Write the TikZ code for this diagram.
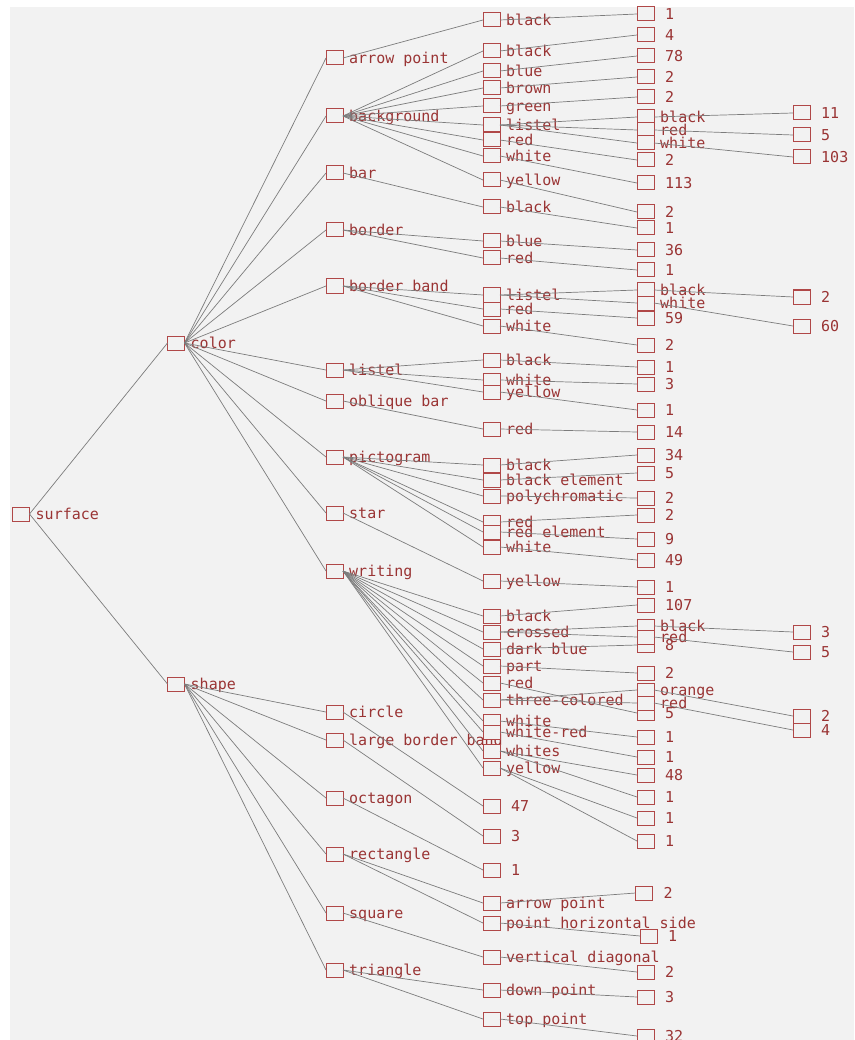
\documentclass[tikz,border=0pt]{standalone}
\usepackage{fontspec}
\newfontfamily\lblfont{DejaVu Sans Mono}
\definecolor{bxc}{HTML}{B04848}
\definecolor{txc}{HTML}{9A3434}
\definecolor{lnc}{HTML}{7C7C7C}
\definecolor{bgc}{HTML}{F2F2F2}
\begin{document}
\begin{tikzpicture}[x=1pt,y=-1pt,
  box/.style={draw=bxc, line width=1pt, fill=bgc, minimum width=17pt, minimum height=14pt, inner sep=0pt, outer sep=0pt},
  lbl/.style={font=\lblfont\fontsize{15}{15}\selectfont, text=txc, inner sep=0pt, text height=14pt, text depth=3pt},
  nm/.style={box, label={[lbl, xshift=6pt]right:#1}},
  nv/.style={box, label={[lbl, xshift=11pt]right:#1}},
  ln/.style={draw=lnc, line width=0.7pt}]
\useasboundingbox (0,0) rectangle (854,1040);
\fill[white] (0,0) rectangle (854,1040);
\fill[bgc] (10,7) rectangle (854,1040);
% level 0 and 1
\node[nm=surface] (s0) at (21,514) {};
\node[nm=color] (c) at (176,343) {};
\node[nm=shape] (sh) at (176,684) {};
% level 2
\node[nm=arrow point] (a1) at (334.5,58) {};
\node[nm=background] (a2) at (334.5,116) {};
\node[nm=bar] (a3) at (334.5,173) {};
\node[nm=border] (a4) at (334.5,230) {};
\node[nm=border band] (a5) at (334.5,286) {};
\node[nm=listel] (a6) at (334.5,370) {};
\node[nm=oblique bar] (a7) at (334.5,401) {};
\node[nm=pictogram] (a8) at (334.5,457) {};
\node[nm=star] (a9) at (334.5,513) {};
\node[nm=writing] (a10) at (334.5,571) {};
\node[nm=circle] (a11) at (334.5,712) {};
\node[nm=large border band] (a12) at (334.5,740) {};
\node[nm=octagon] (a13) at (334.5,798) {};
\node[nm=rectangle] (a14) at (334.5,854) {};
\node[nm=square] (a15) at (334.5,913) {};
\node[nm=triangle] (a16) at (334.5,970) {};
% level 3
\node[nm=black] (b1) at (491.5,20) {};
\node[nm=black] (b2) at (491.5,51) {};
\node[nm=blue] (b3) at (491.5,71) {};
\node[nm=brown] (b4) at (491.5,88) {};
\node[nm=green] (b5) at (491.5,106) {};
\node[nm=listel] (b6) at (491.5,125) {};
\node[nm=red] (b7) at (491.5,140) {};
\node[nm=white] (b8) at (491.5,156) {};
\node[nm=yellow] (b9) at (491.5,180) {};
\node[nm=black] (b10) at (491.5,207) {};
\node[nm=blue] (b11) at (491.5,241) {};
\node[nm=red] (b12) at (491.5,258) {};
\node[nm=listel] (b13) at (491.5,295) {};
\node[nm=red] (b14) at (491.5,309) {};
\node[nm=white] (b15) at (491.5,326) {};
\node[nm=black] (b16) at (491.5,360) {};
\node[nm=white] (b17) at (491.5,380) {};
\node[nm=yellow] (b18) at (491.5,392) {};
\node[nm=red] (b19) at (491.5,429) {};
\node[nm=black] (b20) at (491.5,465) {};
\node[nm=black element] (b21) at (491.5,480) {};
\node[nm=polychromatic] (b22) at (491.5,496) {};
\node[nm=red] (b23) at (491.5,522) {};
\node[nm=red element] (b24) at (491.5,532) {};
\node[nm=white] (b25) at (491.5,547) {};
\node[nm=yellow] (b26) at (491.5,581) {};
\node[nm=black] (b27) at (491.5,616) {};
\node[nm=crossed] (b28) at (491.5,632) {};
\node[nm=dark blue] (b29) at (491.5,649) {};
\node[nm=part] (b30) at (491.5,666) {};
\node[nm=red] (b31) at (491.5,683) {};
\node[nm=three-colored] (b32) at (491.5,700) {};
\node[nm=white] (b33) at (491.5,721) {};
\node[nm=white-red] (b34) at (491.5,732) {};
\node[nm=whites] (b35) at (491.5,751) {};
\node[nm=yellow] (b36) at (491.5,768) {};
\node[nv=47] (b37) at (491.5,806) {};
\node[nv=3] (b38) at (491.5,836) {};
\node[nv=1] (b39) at (491.5,870) {};
\node[nm=arrow point] (b40) at (491.5,903) {};
\node[nm=point horizontal side] (b41) at (491.5,923) {};
\node[nm=vertical diagonal] (b42) at (491.5,957) {};
\node[nm=down point] (b43) at (491.5,990) {};
\node[nm=top point] (b44) at (491.5,1019) {};
% level 4
\node[nv=1] (d1) at (645.5,14) {};
\node[nv=4] (d2) at (645.5,35) {};
\node[nv=78] (d3) at (645.5,56) {};
\node[nv=2] (d4) at (645.5,77) {};
\node[nv=2] (d5) at (645.5,97) {};
\node[nm=black] (d6) at (645.5,117) {};
\node[nm=red] (d7) at (645.5,130) {};
\node[nm=white] (d8) at (645.5,143) {};
\node[nv=2] (d9) at (645.5,160) {};
\node[nv=113] (d10) at (645.5,183) {};
\node[nv=2] (d11) at (645.5,212) {};
\node[nv=1] (d12) at (645.5,228) {};
\node[nv=36] (d13) at (645.5,250) {};
\node[nv=1] (d14) at (645.5,270) {};
\node[nm=black] (d15) at (645.5,290) {};
\node[nm=white] (d16) at (645.5,303) {};
\node[nv=59] (d17) at (645.5,318) {};
\node[nv=2] (d18) at (645.5,345) {};
\node[nv=1] (d19) at (645.5,367) {};
\node[nv=3] (d20) at (645.5,384) {};
\node[nv=1] (d21) at (645.5,410) {};
\node[nv=14] (d22) at (645.5,432) {};
\node[nv=34] (d23) at (645.5,455) {};
\node[nv=5] (d24) at (645.5,473) {};
\node[nv=2] (d25) at (645.5,498) {};
\node[nv=2] (d26) at (645.5,515) {};
\node[nv=9] (d27) at (645.5,539) {};
\node[nv=49] (d28) at (645.5,560) {};
\node[nv=1] (d29) at (645.5,587) {};
\node[nv=107] (d30) at (645.5,605) {};
\node[nv=8] (d33) at (645.5,645) {};
\node[nm=black] (d31) at (645.5,626) {};
\node[nm=red] (d32) at (645.5,637) {};
\node[nv=2] (d34) at (645.5,673) {};
\node[nv=5] (d37) at (645.5,713) {};
\node[nm=orange] (d35) at (645.5,690) {};
\node[nm=red] (d36) at (645.5,703) {};
\node[nv=1] (d38) at (645.5,737) {};
\node[nv=1] (d39) at (645.5,757) {};
\node[nv=48] (d40) at (645.5,775) {};
\node[nv=1] (d41) at (645.5,797) {};
\node[nv=1] (d42) at (645.5,818) {};
\node[nv=1] (d43) at (645.5,841) {};
\node[nv=2] (d44) at (644,893) {};
\node[nv=1] (d45) at (648.5,936) {};
\node[nv=2] (d46) at (645.5,972) {};
\node[nv=3] (d47) at (645.5,997) {};
\node[nv=32] (d48) at (645.5,1036) {};
% level 5
\node[nv=11] (e1) at (801.5,113) {};
\node[nv=5] (e2) at (801.5,135) {};
\node[nv=103] (e3) at (801.5,157) {};
\node[nv=2] (e4) at (801.5,297) {};
\node[nv=60] (e5) at (801.5,326) {};
\node[nv=3] (e6) at (801.5,632) {};
\node[nv=5] (e7) at (801.5,652) {};
\node[nv=2] (e8) at (801.5,716) {};
\node[nv=4] (e9) at (801.5,730) {};
% connectors
\foreach \p/\q in {s0/c, s0/sh,
  c/a1, c/a2, c/a3, c/a4, c/a5, c/a6, c/a7, c/a8, c/a9, c/a10,
  sh/a11, sh/a12, sh/a13, sh/a14, sh/a15, sh/a16,
  a1/b1, a2/b2, a2/b3, a2/b4, a2/b5, a2/b6, a2/b7, a2/b8, a2/b9,
  a3/b10, a4/b11, a4/b12, a5/b13, a5/b14, a5/b15,
  a6/b16, a6/b17, a6/b18, a7/b19,
  a8/b20, a8/b21, a8/b22, a8/b23, a8/b24, a8/b25, a9/b26,
  a10/b27, a10/b28, a10/b29, a10/b30, a10/b31, a10/b32, a10/b33, a10/b34, a10/b35, a10/b36,
  a11/b37, a12/b38, a13/b39, a14/b40, a14/b41, a15/b42, a16/b43, a16/b44,
  b1/d1, b2/d2, b3/d3, b4/d4, b5/d5, b6/d6, b6/d7, b6/d8, b7/d9, b8/d10, b9/d11,
  b10/d12, b11/d13, b12/d14, b13/d15, b13/d16, b14/d17, b15/d18,
  b16/d19, b17/d20, b18/d21, b19/d22, b20/d23, b21/d24, b22/d25, b23/d26, b24/d27, b25/d28,
  b26/d29, b27/d30, b28/d31, b28/d32, b29/d33, b30/d34, b31/d37, b32/d35, b32/d36,
  b33/d38, b34/d39, b35/d40, b35/d41, b36/d42, b36/d43,
  b40/d44, b41/d45, b42/d46, b43/d47, b44/d48,
  d6/e1, d7/e2, d8/e3, d15/e4, d16/e5, d31/e6, d32/e7, d35/e8, d36/e9}
  \draw[ln] (\p.east) -- (\q.west);
\end{tikzpicture}
\end{document}
